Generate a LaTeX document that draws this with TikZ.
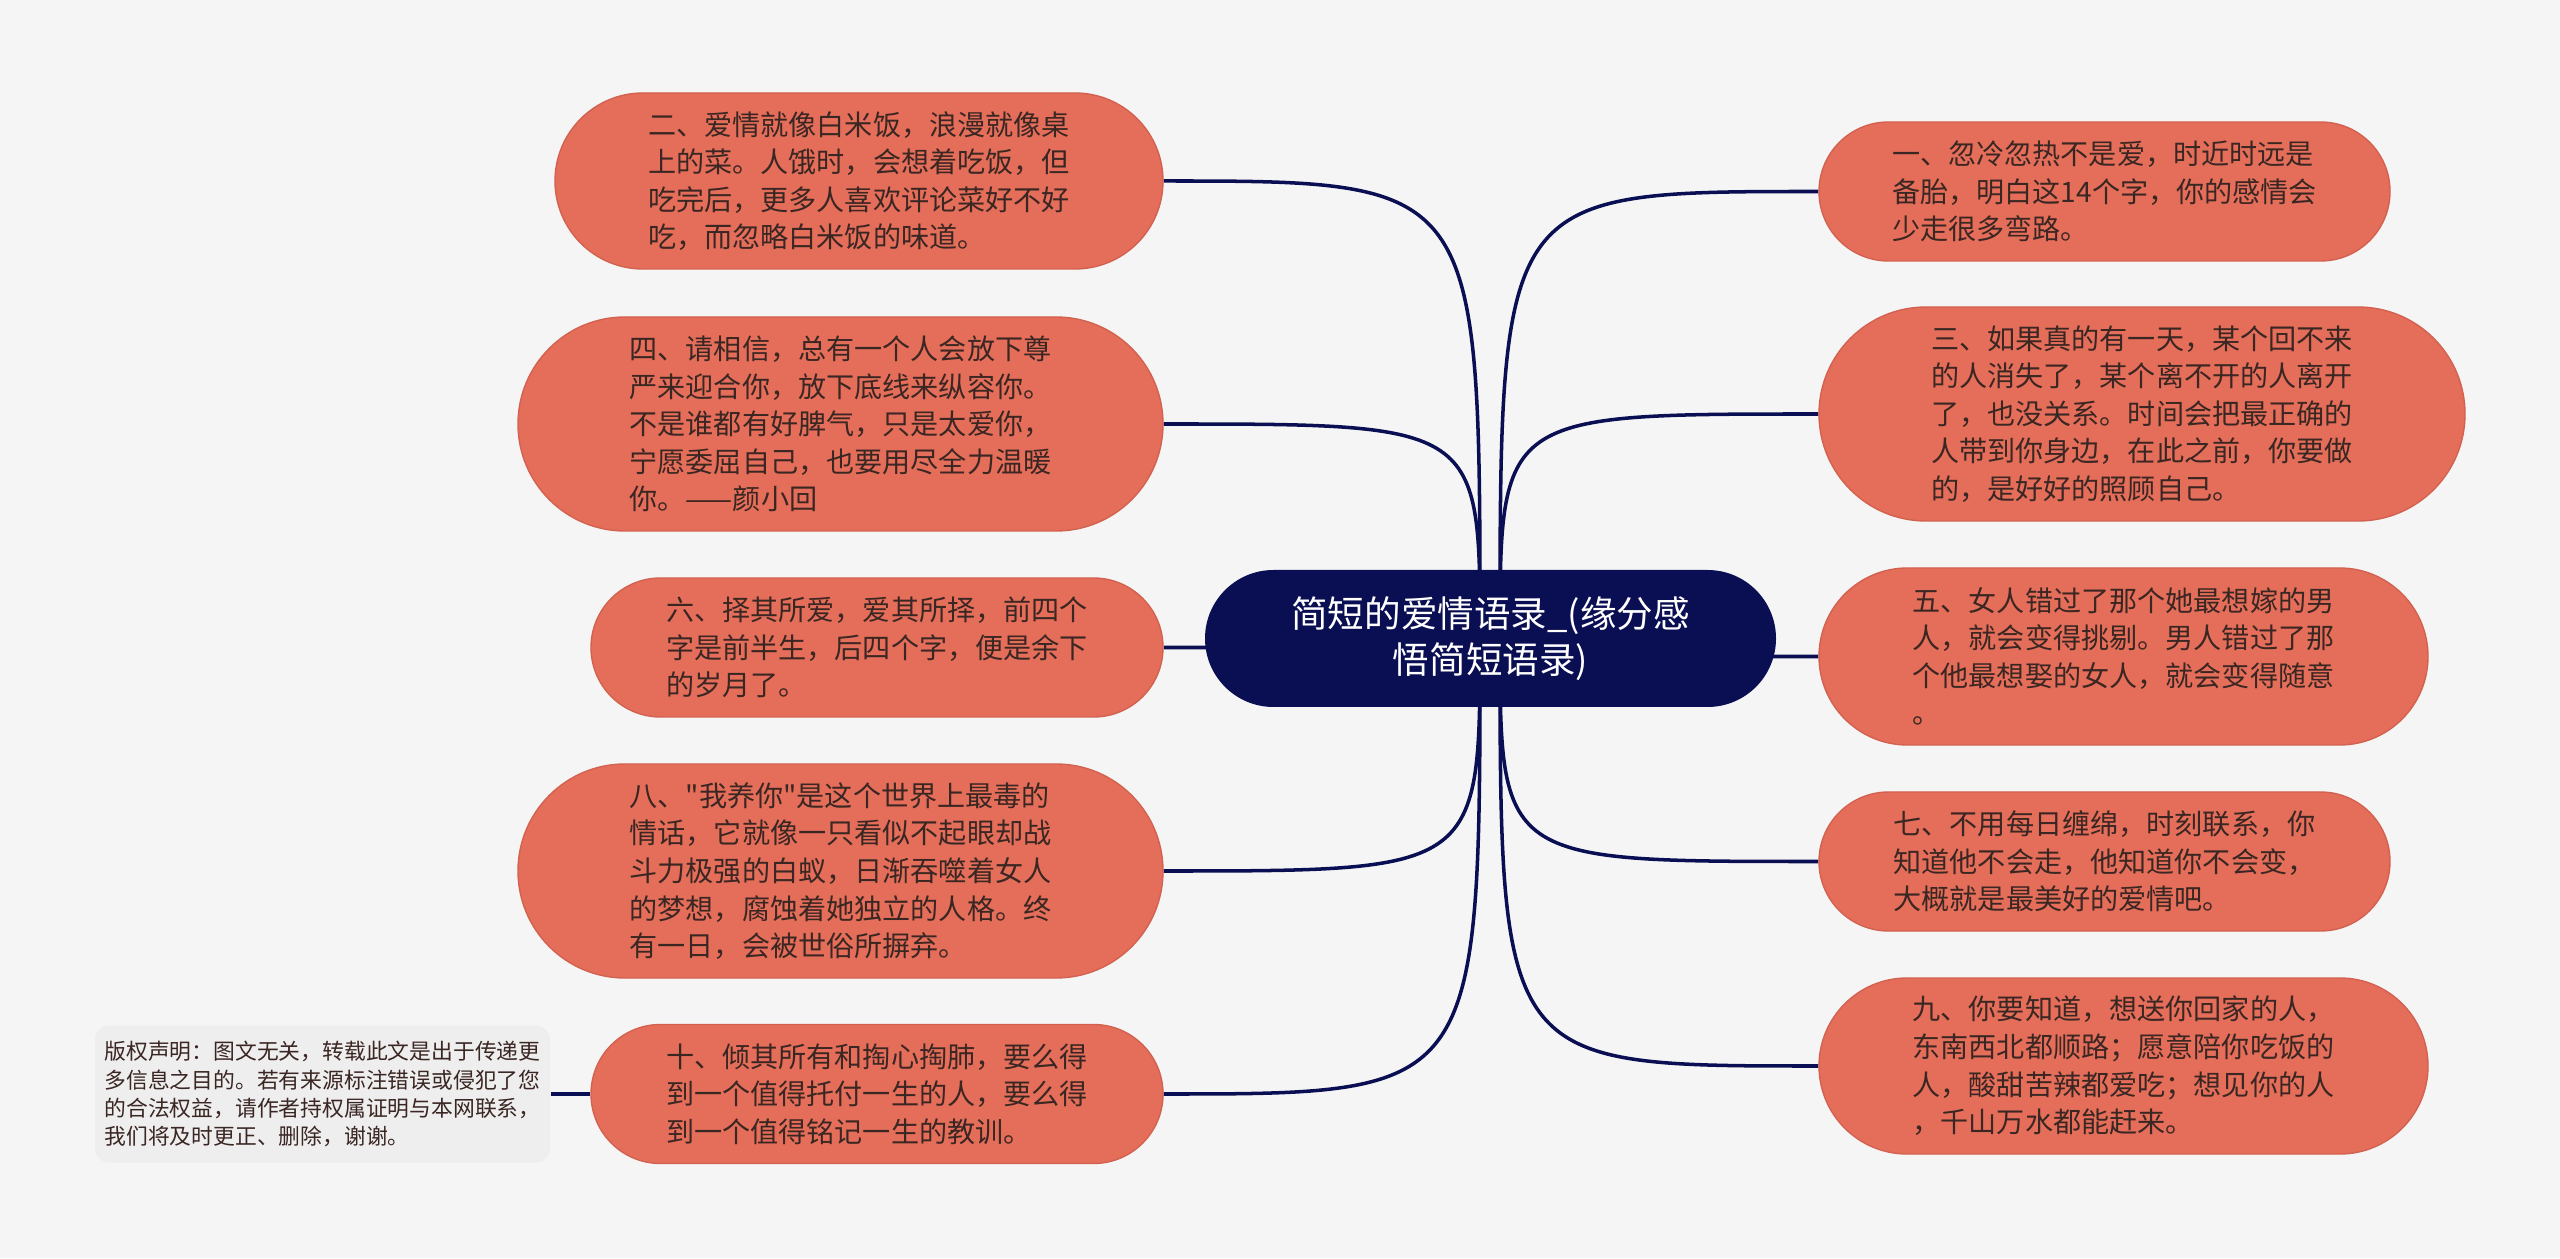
\documentclass[tikz,border=0pt]{standalone}
\usepackage{fontspec}
\setmainfont{Noto Sans CJK SC}[Ligatures=TeXOff]
\usetikzlibrary{shapes.misc, backgrounds}

\definecolor{pagebg}{HTML}{F5F5F5}
\definecolor{salmon}{HTML}{E46E5A}
\definecolor{salmonedge}{HTML}{D2624F}
\definecolor{navy}{HTML}{0A0E52}
\definecolor{ink}{HTML}{3A2622}
\definecolor{notebg}{HTML}{EEEEEE}

\begin{document}
\begin{tikzpicture}[
  box/.style={rounded rectangle, fill=salmon, draw=salmonedge, line width=0.4pt, text=ink, align=left, inner sep=0pt, font=\fontsize{8}{10.7}\selectfont},
  root/.style={rounded rectangle, fill=navy, text=white, align=center, inner sep=0pt, font=\fontsize{10.4}{13}\selectfont},
  note/.style={rounded corners=4pt, fill=notebg, text=ink, align=left, inner sep=0pt, font=\fontsize{6.2}{8}\selectfont},
  link/.style={draw=navy, line width=1pt}
]
\useasboundingbox (0,0) rectangle (25.6,12.58);
\begin{scope}[on background layer]
  \fill[pagebg] (0,0) rectangle (25.6,12.58);
\end{scope}

\node[root, minimum width=5.71cm, minimum height=1.37cm] (hub) at (14.905,6.195) {简短的爱情语录\_(缘分感\\悟简短语录)};

% left branch
\node[box, minimum width=6.08cm, minimum height=1.76cm] (q2) at (8.59,10.77) {二、爱情就像白米饭，浪漫就像桌\\上的菜。人饿时，会想着吃饭，但\\吃完后，更多人喜欢评论菜好不好\\吃，而忽略白米饭的味道。};
\node[box, minimum width=6.45cm, minimum height=2.14cm] (q4) at (8.405,8.34) {四、请相信，总有一个人会放下尊\\严来迎合你，放下底线来纵容你。\\不是谁都有好脾气，只是太爱你，\\宁愿委屈自己，也要用尽全力温暖\\你。——颜小回};
\node[box, minimum width=5.72cm, minimum height=1.39cm] (q6) at (8.77,6.105) {六、择其所爱，爱其所择，前四个\\字是前半生，后四个字，便是余下\\的岁月了。};
\node[box, minimum width=6.45cm, minimum height=2.14cm] (q8) at (8.405,3.87) {八、"我养你"是这个世界上最毒的\\情话，它就像一只看似不起眼却战\\斗力极强的白蚁，日渐吞噬着女人\\的梦想，腐蚀着她独立的人格。终\\有一日，会被世俗所摒弃。};
\node[box, minimum width=5.72cm, minimum height=1.39cm] (q10) at (8.77,1.64) {十、倾其所有和掏心掏肺，要么得\\到一个值得托付一生的人，要么得\\到一个值得铭记一生的教训。};
\node[note, minimum width=4.55cm, minimum height=1.37cm] (note) at (3.225,1.64) {版权声明：图文无关，转载此文是出于传递更\\多信息之目的。若有来源标注错误或侵犯了您\\的合法权益，请作者持权属证明与本网联系，\\我们将及时更正、删除，谢谢。};

% right branch
\node[box, minimum width=5.71cm, minimum height=1.39cm] (q1) at (21.045,10.665) {一、忽冷忽热不是爱，时近时远是\\备胎，明白这14个字，你的感情会\\少走很多弯路。};
\node[box, minimum width=6.46cm, minimum height=2.14cm] (q3) at (21.42,8.44) {三、如果真的有一天，某个回不来\\的人消失了，某个离不开的人离开\\了，也没关系。时间会把最正确的\\人带到你身边，在此之前，你要做\\的，是好好的照顾自己。};
\node[box, minimum width=6.09cm, minimum height=1.77cm] (q5) at (21.235,6.015) {五、女人错过了那个她最想嫁的男\\人，就会变得挑剔。男人错过了那\\个他最想娶的女人，就会变得随意\\。};
\node[box, minimum width=5.71cm, minimum height=1.39cm] (q7) at (21.045,3.965) {七、不用每日缠绵，时刻联系，你\\知道他不会走，他知道你不会变，\\大概就是最美好的爱情吧。};
\node[box, minimum width=6.09cm, minimum height=1.76cm] (q9) at (21.235,1.92) {九、你要知道，想送你回家的人，\\东南西北都顺路；愿意陪你吃饭的\\人，酸甜苦辣都爱吃；想见你的人\\，千山万水都能赶来。};

\coordinate (hubL) at (14.80,6.195);
\coordinate (hubR) at (15.00,6.195);

\begin{scope}[on background layer]
  \foreach \n in {q2,q4,q6,q8,q10}
    \draw[link] (hubL) .. controls (hubL |- \n.east) .. (\n.east);
  \foreach \n in {q1,q3,q5,q7,q9}
    \draw[link] (hubR) .. controls (hubR |- \n.west) .. (\n.west);
  \draw[link] (note.east) -- (q10.west);
\end{scope}

\end{tikzpicture}
\end{document}
